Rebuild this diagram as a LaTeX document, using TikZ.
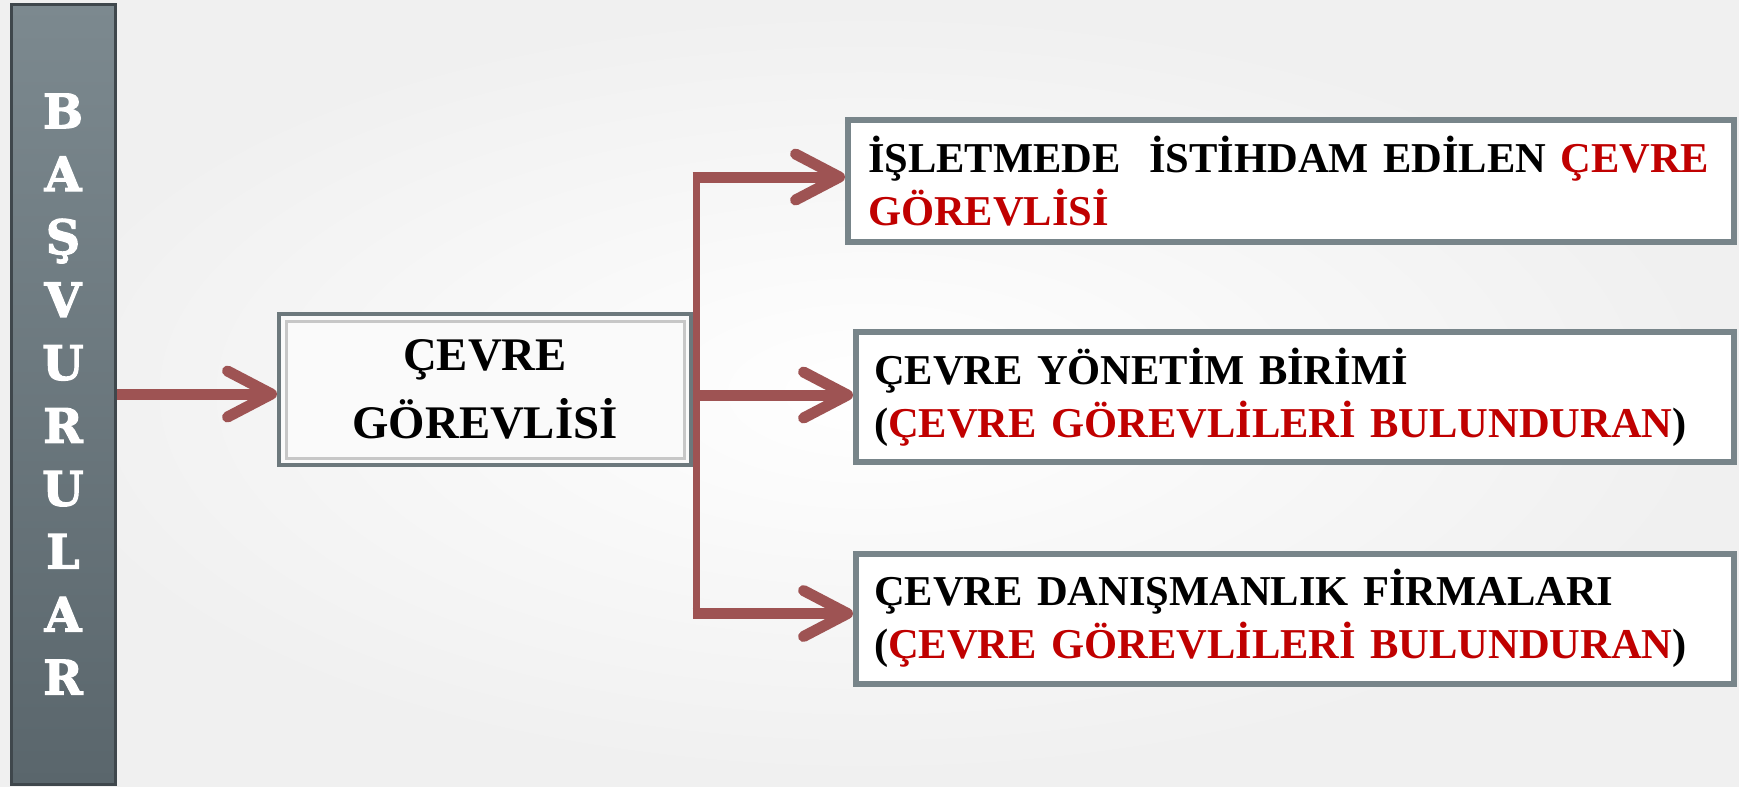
\documentclass[tikz,border=0pt]{standalone}
\usepackage{fontspec}
\setmainfont{Liberation Serif}
\newfontfamily\slabfont[FakeBold=2.5]{DejaVu Serif}
\usetikzlibrary{arrows.meta}
\definecolor{arrowred}{HTML}{9E5353}
\definecolor{boxgray}{HTML}{78858A}
\definecolor{textred}{HTML}{C00000}
\definecolor{bartop}{HTML}{7C898F}
\definecolor{barbottom}{HTML}{5A666C}
\begin{document}
\begin{tikzpicture}[x=0.1mm, y=-0.1mm,
        barbox/.style={top color=bartop, bottom color=barbottom, draw=barbottom!70!black,
            line width=0.3mm, minimum width=10.4mm, minimum height=78mm, text=white,
            align=center, font=\slabfont\bfseries\fontsize{13.5}{17.9}\selectfont},
        midbox/.style={draw=boxgray!90!black, line width=0.4mm, fill=black!2,
            minimum width=41.2mm, minimum height=15.1mm, align=center,
            font=\bfseries\fontsize{13.3}{19.4}\selectfont},
        rbox/.style={draw=boxgray, line width=0.6mm, fill=white, align=left,
            font=\bfseries\fontsize{12.1}{15.2}\selectfont},
        arr/.style={draw=arrowred, line width=1.1mm,
            -{Straight Barb[round, length=4.4mm, width=4.6mm]}},
        trunk/.style={draw=arrowred, line width=0.7mm}]
    \path[use as bounding box] (0,0) rectangle (1739,786);
    \shade[inner color=white, outer color=black!6] (0,0) rectangle (1739,786);

    \node[barbox] (bar) at (63,394) {B\\A\\Ş\\V\\U\\R\\U\\L\\A\\R};

    \node[midbox] (cg) at (485,389.5) {ÇEVRE\\GÖREVLİSİ};
    \draw[black!22, line width=0.3mm] ([shift={(9,9)}]cg.north west) rectangle ([shift={(-9,-9)}]cg.south east);

    \node[rbox, text width=84.6mm, inner xsep=2mm, minimum height=12.2mm] (isl) at (1291,181)
        {İŞLETMEDE\ \ İSTİHDAM EDİLEN \textcolor{textred}{ÇEVRE}\\\textcolor{textred}{GÖREVLİSİ}};
    \node[rbox, text width=84.2mm, inner xsep=1.8mm, minimum height=13mm] (yon) at (1295,397)
        {ÇEVRE YÖNETİM BİRİMİ\\(\textcolor{textred}{ÇEVRE GÖREVLİLERİ BULUNDURAN})};
    \node[rbox, text width=84.2mm, inner xsep=1.8mm, minimum height=13mm] (dan) at (1295,618.5)
        {ÇEVRE DANIŞMANLIK FİRMALARI\\(\textcolor{textred}{ÇEVRE GÖREVLİLERİ BULUNDURAN})};

    \coordinate (fork) at (696,394);
    \draw[arr] (bar.east) -- (cg.west |- bar.east);
    \draw[trunk] ([yshift=0.4mm]fork |- isl.west) -- ([yshift=0.5mm]fork |- dan.west);
    \foreach \target/\dy in {isl/0.4mm, yon/0.2mm, dan/0.5mm} {
        \draw[arr] ([xshift=-0.35mm,yshift=\dy]fork |- \target.west) -- ([yshift=\dy]\target.west);
    }
\end{tikzpicture}
\end{document}
